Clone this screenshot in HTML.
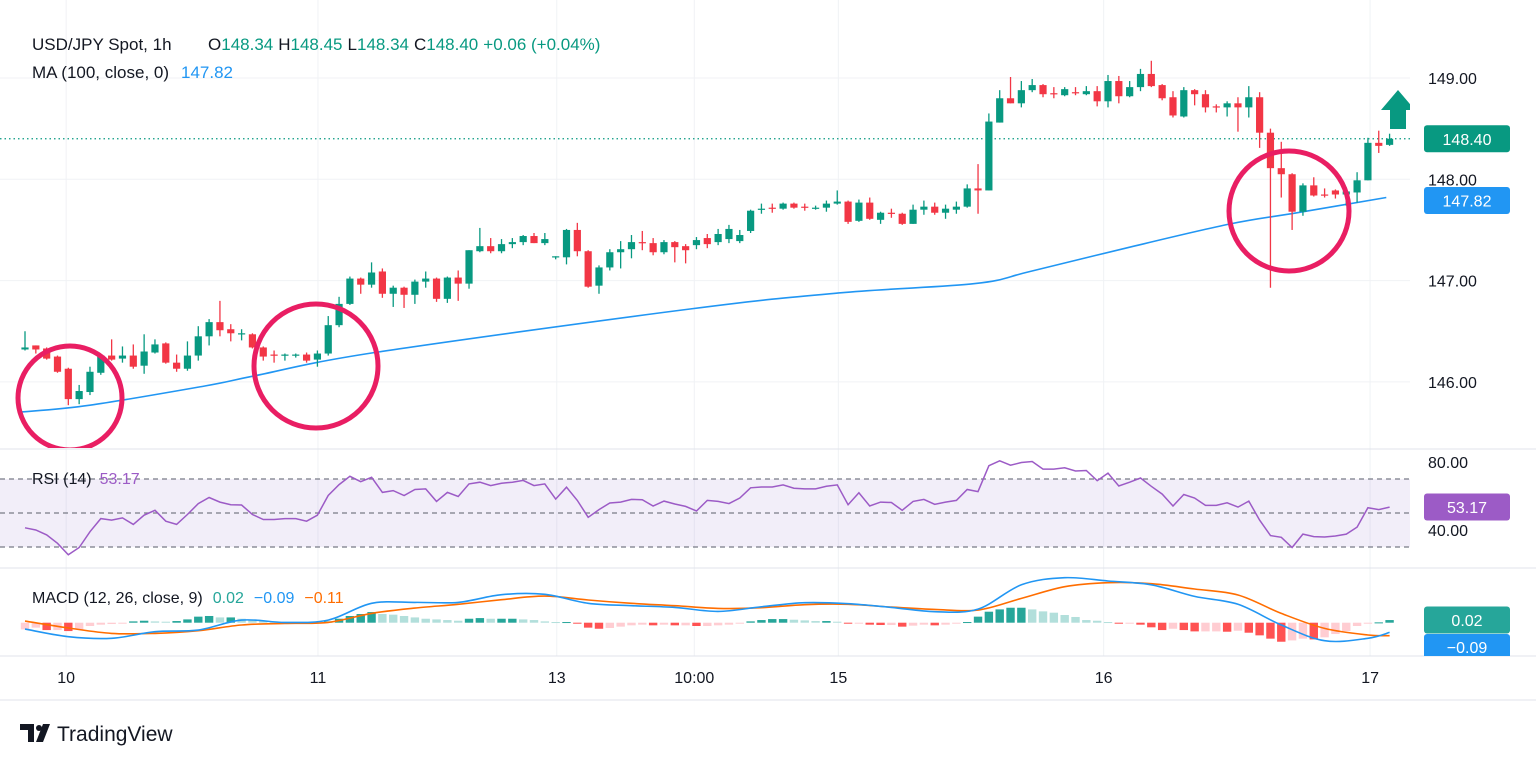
<!DOCTYPE html>
<html><head><meta charset="utf-8">
<style>
html,body{margin:0;padding:0;background:#fff;}
svg{display:block;font-family:"Liberation Sans","DejaVu Sans",sans-serif;}
</style></head>
<body>
<svg id="chart" width="1536" height="763" viewBox="0 0 1536 763" xmlns="http://www.w3.org/2000/svg">
<defs>
<clipPath id="mainClip"><rect x="0" y="0" width="1410" height="448"/></clipPath>
<clipPath id="macdClip"><rect x="0" y="569" width="1536" height="87"/></clipPath>
</defs>
<g id="grid"></g>
<g id="main" clip-path="url(#mainClip)"></g>
<g id="rsi"></g>
<g id="macd" clip-path="url(#macdClip)"></g>
<g id="axes"></g>

<text x="32" y="50" font-size="17" fill="#131722">USD/JPY Spot, 1h</text>
<text x="208" y="50" font-size="17"><tspan fill="#131722">O</tspan><tspan fill="#089981">148.34</tspan><tspan fill="#131722" dx="5">H</tspan><tspan fill="#089981">148.45</tspan><tspan fill="#131722" dx="5">L</tspan><tspan fill="#089981">148.34</tspan><tspan fill="#131722" dx="5">C</tspan><tspan fill="#089981">148.40</tspan><tspan fill="#089981" dx="5">+0.06 (+0.04%)</tspan></text>
<text x="32" y="78" font-size="17" fill="#131722">MA (100, close, 0)<tspan fill="#2196f3" dx="12">147.82</tspan></text>
<text x="32" y="484" font-size="16" fill="#131722">RSI (14)<tspan fill="#9c5bc6" dx="8">53.17</tspan></text>
<text x="32" y="603" font-size="16" fill="#131722">MACD (12, 26, close, 9)<tspan fill="#26a69a" dx="10">0.02</tspan><tspan fill="#2196f3" dx="10">−0.09</tspan><tspan fill="#ff6d00" dx="10">−0.11</tspan></text>

<g>
<path d="M20 724 h14 v18 h-6 v-12 h-8 z M36 742 l7 -18 h7 l-7 18 z" fill="#131722"/>
<circle cx="39" cy="728" r="3" fill="#131722"/>
<text x="57" y="741" font-size="21" fill="#131722">TradingView</text>
</g>
</svg>
<script>
// ---- data ----
const opens=[146.32,146.36,146.33,146.25,146.13,145.83,145.90,146.09,146.26,146.23,
146.26,146.16,146.29,146.38,146.19,146.13,146.26,146.45,146.59,146.52,
146.47,146.47,146.34,146.27,146.26,146.26,146.27,146.22,146.28,146.56,
146.77,147.02,146.96,147.09,146.87,146.93,146.86,146.99,147.02,146.82,
147.03,146.97,147.29,147.34,147.29,147.36,147.38,147.44,147.37,147.23,
147.23,147.50,147.29,146.95,147.13,147.28,147.31,147.38,147.37,147.28,
147.38,147.34,147.35,147.42,147.38,147.41,147.39,147.49,147.70,147.72,
147.71,147.76,147.73,147.71,147.72,147.76,147.78,147.59,147.77,147.60,
147.67,147.66,147.56,147.70,147.73,147.67,147.70,147.73,147.91,147.89,
148.56,148.80,148.75,148.88,148.93,148.85,148.83,148.86,148.84,148.87,
148.77,148.97,148.82,148.91,149.04,148.93,148.81,148.62,148.88,148.84,
148.72,148.71,148.75,148.71,148.81,148.46,148.11,148.05,147.68,147.94,
147.85,147.89,147.85,147.87,147.99,148.36,148.34];
const highs=[146.50,146.36,146.34,146.26,146.14,145.97,146.15,146.27,146.42,146.35,
146.37,146.47,146.42,146.39,146.27,146.40,146.55,146.62,146.80,146.57,
146.52,146.48,146.35,146.31,146.28,146.28,146.29,146.31,146.65,146.84,
147.04,147.03,147.18,147.12,146.95,146.94,147.01,147.09,147.03,147.04,
147.10,147.30,147.52,147.42,147.41,147.42,147.45,147.47,147.47,147.24,
147.51,147.57,147.30,147.15,147.31,147.39,147.45,147.49,147.42,147.40,
147.39,147.36,147.43,147.46,147.51,147.55,147.50,147.70,147.76,147.76,
147.77,147.77,147.76,147.74,147.79,147.89,147.79,147.80,147.82,147.68,
147.71,147.67,147.75,147.79,147.77,147.75,147.78,147.95,148.15,148.65,
148.88,149.01,148.97,148.99,148.94,148.91,148.91,148.91,148.92,148.92,
149.03,149.02,148.97,149.09,149.17,148.94,148.87,148.91,148.89,148.88,
148.74,148.77,148.81,148.92,148.86,148.50,148.37,148.06,147.96,148.02,
147.91,147.90,147.92,148.07,148.41,148.48,148.45];
const lows=[146.31,146.28,146.22,146.09,145.77,145.78,145.87,146.07,146.21,146.19,
146.13,146.08,146.28,146.18,146.10,146.11,146.21,146.36,146.45,146.40,
146.41,146.33,146.21,146.19,146.21,146.24,146.19,146.15,146.26,146.54,
146.76,146.87,146.93,146.83,146.74,146.73,146.77,146.93,146.79,146.78,
146.80,146.92,147.28,147.27,147.27,147.32,147.35,147.37,147.35,147.21,
147.16,147.24,146.93,146.87,147.10,147.12,147.22,147.30,147.25,147.26,
147.18,147.17,147.31,147.32,147.35,147.37,147.37,147.47,147.66,147.67,
147.70,147.71,147.69,147.70,147.68,147.75,147.56,147.58,147.60,147.56,
147.62,147.55,147.56,147.65,147.65,147.61,147.66,147.72,147.66,147.89,
148.56,148.75,148.71,148.86,148.81,148.80,148.82,148.83,148.83,148.72,
148.71,148.75,148.81,148.87,148.91,148.78,148.61,148.61,148.73,148.66,
148.66,148.62,148.47,148.61,148.31,146.93,147.82,147.50,147.64,147.83,
147.82,147.81,147.74,147.77,147.99,148.26,148.33];
const closes=[146.34,146.32,146.23,146.10,145.83,145.91,146.10,146.26,146.22,146.26,
146.15,146.30,146.37,146.19,146.13,146.26,146.45,146.59,146.51,146.48,
146.48,146.34,146.25,146.26,146.27,146.27,146.21,146.28,146.56,146.77,
147.02,146.96,147.08,146.87,146.93,146.86,146.99,147.02,146.82,147.03,
146.97,147.30,147.34,147.29,147.36,147.38,147.44,147.37,147.41,147.24,
147.50,147.29,146.94,147.13,147.28,147.31,147.38,147.37,147.28,147.38,
147.33,147.30,147.40,147.36,147.46,147.51,147.45,147.69,147.71,147.71,
147.76,147.72,147.72,147.72,147.76,147.78,147.58,147.77,147.61,147.67,
147.66,147.56,147.70,147.73,147.67,147.71,147.73,147.91,147.89,148.57,
148.80,148.75,148.88,148.93,148.84,148.84,148.89,148.85,148.87,148.77,
148.97,148.82,148.91,149.04,148.92,148.80,148.63,148.88,148.84,148.71,
148.71,148.75,148.71,148.81,148.46,148.11,148.05,147.68,147.94,147.84,
147.84,147.85,147.88,147.99,148.36,148.33,148.40];
const maIdx=[-0.6,6,16.6,21.2,32.3,61.4,75.3,87.7,92.8,102,111.3,117.5,125.7];
const maVals=[145.70,145.77,145.96,146.06,146.29,146.72,146.88,146.97,147.09,147.33,147.56,147.67,147.82];
const rsiVals=[41.3,40.0,37.1,32.2,25.4,29.7,39.0,46.7,45.8,47.1,
43.3,48.7,51.6,45.2,43.3,49.1,55.5,59.1,56.4,54.9,
54.7,49.1,46.2,46.2,46.7,46.7,45.2,48.7,60.3,66.7,
71.6,68.4,71.0,62.1,63.2,60.3,63.8,64.2,56.8,62.1,
59.7,67.1,68.1,66.1,67.5,68.1,69.2,66.1,67.1,58.2,
65.2,57.4,47.5,52.0,55.9,56.4,58.0,57.8,54.1,57.0,
55.3,53.9,51.2,57.4,56.8,55.5,58.8,64.8,65.3,65.3,
66.5,64.6,64.2,64.2,65.7,66.5,54.9,61.9,54.1,56.4,
56.2,51.6,56.8,58.0,55.1,56.4,57.4,63.8,62.6,77.8,
80.7,78.1,79.7,80.3,75.8,75.8,76.6,74.7,75.0,69.0,
73.5,65.9,68.1,70.6,65.7,61.1,54.1,60.9,58.8,54.5,
54.5,56.0,53.5,57.0,45.8,36.7,35.7,29.7,37.6,36.1,
35.9,36.5,37.6,41.7,53.1,52.0,53.5];
const histVals=[-0.061,-0.045,-0.067,-0.067,-0.076,-0.061,-0.030,-0.018,-0.012,-0.006,
0.012,0.018,0.012,0.009,0.015,0.030,0.055,0.061,0.048,0.048,
0.036,0.030,0.018,0.012,0.006,-0.009,-0.009,-0.003,0.012,0.036,
0.061,0.079,0.097,0.079,0.073,0.061,0.048,0.036,0.030,0.024,
0.018,0.036,0.042,0.036,0.036,0.036,0.030,0.024,0.012,0.006,
0.006,-0.006,-0.045,-0.055,-0.048,-0.036,-0.024,-0.018,-0.024,-0.018,
-0.024,-0.024,-0.030,-0.030,-0.024,-0.018,-0.009,0.012,0.024,0.033,
0.033,0.027,0.021,0.015,0.015,0.009,-0.006,-0.003,-0.018,-0.021,
-0.021,-0.036,-0.027,-0.018,-0.024,-0.018,-0.009,0.006,0.055,0.100,
0.121,0.136,0.136,0.121,0.103,0.091,0.070,0.052,0.024,0.018,
0.006,-0.006,-0.006,-0.018,-0.042,-0.067,-0.055,-0.067,-0.079,-0.079,
-0.079,-0.082,-0.073,-0.091,-0.115,-0.145,-0.173,-0.161,-0.145,-0.152,
-0.133,-0.103,-0.076,-0.030,-0.009,0.003,0.024];
const macdIdx=[0,4,8,12,16,20,24,28,32,36,40,44,48,52,56,60,64,68,72,76,80,84,88,92,96,100,104,108,112,116,120,124,126];
const macdVals=[-0.058,-0.127,-0.142,-0.082,-0.067,0.024,0.003,0.024,0.176,0.185,0.185,0.255,0.258,0.176,0.155,0.139,0.103,0.145,0.182,0.173,0.139,0.100,0.124,0.345,0.409,0.379,0.345,0.239,0.167,-0.021,-0.164,-0.142,-0.088];
const signalVals=[0.015,-0.048,-0.097,-0.097,-0.073,-0.021,-0.006,0.003,0.085,0.133,0.167,0.209,0.242,0.206,0.176,0.155,0.130,0.136,0.164,0.167,0.142,0.121,0.115,0.221,0.327,0.364,0.355,0.306,0.252,0.085,-0.052,-0.112,-0.118];
const priceTicks=[149,148,147,146];
const priceTickLabels=["149.00","148.00","147.00","146.00"];
const rsiTickVals=[80,40];
const rsiTickLabels=["80.00","40.00"];
const timeTickIdx=[3.8,27.05,49.1,61.8,75.1,99.6,124.2];
const timeTickLabels=["10","11","13","10:00","15","16","17"];

// ---- scales ----
const NS="http://www.w3.org/2000/svg";
const xOf=i=>25+10.83*i;
const yP=p=>78+(149-p)*101.3;
const yR=v=>479+(70-v)*1.7;
const yM=v=>622.7-v*110;
function mk(tag,attrs,parent){const e=document.createElementNS(NS,tag);for(const k in attrs)e.setAttribute(k,attrs[k]);parent.appendChild(e);return e;}
function smooth(pts){
  let d='M'+pts[0][0].toFixed(1)+' '+pts[0][1].toFixed(1);
  for(let i=0;i<pts.length-1;i++){
    const p0=pts[Math.max(0,i-1)],p1=pts[i],p2=pts[i+1],p3=pts[Math.min(pts.length-1,i+2)];
    const c1x=p1[0]+(p2[0]-p0[0])/6,c1y=p1[1]+(p2[1]-p0[1])/6;
    const c2x=p2[0]-(p3[0]-p1[0])/6,c2y=p2[1]-(p3[1]-p1[1])/6;
    d+='C'+c1x.toFixed(1)+' '+c1y.toFixed(1)+' '+c2x.toFixed(1)+' '+c2y.toFixed(1)+' '+p2[0].toFixed(1)+' '+p2[1].toFixed(1);
  }
  return d;
}
const G=document.getElementById('grid'),M=document.getElementById('main'),R=document.getElementById('rsi'),D=document.getElementById('macd'),A=document.getElementById('axes');

// grid
priceTicks.forEach(p=>{const l=mk('line',{x1:0,x2:1410,y1:yP(p),y2:yP(p),stroke:'#f0f2f5','stroke-width':1},G);

});
timeTickIdx.forEach(i=>{const l=mk('line',{x1:xOf(i),x2:xOf(i),y1:0,y2:656,stroke:'#f0f2f5','stroke-width':1},G);

});
[[449],[568],[656],[700]].forEach(a=>{const l=mk('line',{x1:0,x2:1536,y1:a[0],y2:a[0],stroke:'#e0e3eb','stroke-width':1},G);

});

// last price dotted line
const lp=mk('line',{x1:0,x2:1410,y1:yP(closes[closes.length-1]),y2:yP(closes[closes.length-1]),stroke:'#089981','stroke-width':1.2,'stroke-dasharray':'1.5 3'},M);



// MA
const ma=mk('path',{d:smooth(maIdx.map((i,k)=>[xOf(i),yP(maVals[k])])),fill:'none',stroke:'#2196f3','stroke-width':1.6},M);



// candles
opens.forEach((o,i)=>{
  const c=closes[i],up=c>=o,col=up?'#089981':'#f23645',x=xOf(i);
  const g=mk('g',{},M);
  
  
  mk('line',{x1:x,x2:x,y1:yP(highs[i]),y2:yP(lows[i]),stroke:col,'stroke-width':1.3},g);
  const t=Math.min(yP(o),yP(c)),h=Math.max(1.2,Math.abs(yP(o)-yP(c)));
  mk('rect',{x:x-3.6,y:t,width:7.2,height:h,fill:col},g);
});

// annotation circles
[[70,398,52],[316,366,62],[1289,211,60]].forEach(a=>{const c=mk('circle',{cx:a[0],cy:a[1],r:a[2],fill:'none',stroke:'#e91e63','stroke-width':5},M);

});
const ar=mk('path',{d:'M1381 110 L1398 90 L1415 110 L1406 110 L1406 129 L1390 129 L1390 110 Z',fill:'#089981'},M);



// RSI
const band=mk('rect',{x:0,y:yR(70),width:1410,height:yR(30)-yR(70),fill:'#7e57c2','fill-opacity':0.1},R);


[70,50,30].forEach(v=>{const l=mk('line',{x1:0,x2:1410,y1:yR(v),y2:yR(v),stroke:'#787b86','stroke-width':1.2,'stroke-dasharray':'5 4'},R);

});
let d='';rsiVals.forEach((v,i)=>{d+=(i?'L':'M')+xOf(i).toFixed(1)+' '+yR(v).toFixed(1);});
const rl=mk('path',{d:d,fill:'none',stroke:'#9c5bc6','stroke-width':1.5},R);



// MACD histogram
histVals.forEach((v,i)=>{
  const prev=i?histVals[i-1]:v;
  let col;
  if(v>=0)col=v>=prev?'#26a69a':'#b2dfdb';else col=v<prev?'#ff5252':'#ffcdd2';
  const y0=yM(0),y1=yM(v);
  const b=mk('rect',{x:xOf(i)-4.2,y:Math.min(y0,y1),width:8.4,height:Math.max(1,Math.abs(y1-y0)),fill:col},D);
  
  
});
const sl=mk('path',{d:smooth(macdIdx.map((i,k)=>[xOf(i),yM(signalVals[k])])),fill:'none',stroke:'#ff6d00','stroke-width':1.6},D);


const ml=mk('path',{d:smooth(macdIdx.map((i,k)=>[xOf(i),yM(macdVals[k])])),fill:'none',stroke:'#2196f3','stroke-width':1.6},D);



// axes labels
priceTicks.forEach((p,k)=>{const t=mk('text',{x:1428,y:yP(p)+6,'font-size':16,fill:'#131722'},A);t.textContent=priceTickLabels[k];

});
rsiTickVals.forEach((v,k)=>{const t=mk('text',{x:1428,y:yR(v)+6,'font-size':16,fill:'#131722'},A);t.textContent=rsiTickLabels[k];

});
timeTickIdx.forEach((i,k)=>{const t=mk('text',{x:xOf(i),y:683,'font-size':16,fill:'#131722','text-anchor':'middle'},A);t.textContent=timeTickLabels[k];

});

function badge(y,h,col,txt,name){
  const g=mk('g',{},A);
  
  
  mk('rect',{x:1424,y:y-h/2,width:86,height:h,rx:3,fill:col},g);
  const t=mk('text',{x:1467,y:y+6,'font-size':16,fill:'#fff','text-anchor':'middle'},g);t.textContent=txt;
}
badge(yP(closes[closes.length-1]),27,'#089981','148.40','last-price-badge');
badge(yP(maVals[maVals.length-1])+3,27,'#2196f3','147.82','ma-value-badge');
badge(yR(rsiVals[rsiVals.length-1]),27,'#9c5bc6','53.17','rsi-value-badge');
badge(620,27,'#26a69a','0.02','histogram-value-badge');
const mb=mk('g',{'clip-path':'url(#macdClip)'},A);


mk('rect',{x:1424,y:634,width:86,height:27,rx:3,fill:'#2196f3'},mb);
const mt=mk('text',{x:1467,y:653,'font-size':16,fill:'#fff','text-anchor':'middle'},mb);mt.textContent='−0.09';
</script>
</body></html>
